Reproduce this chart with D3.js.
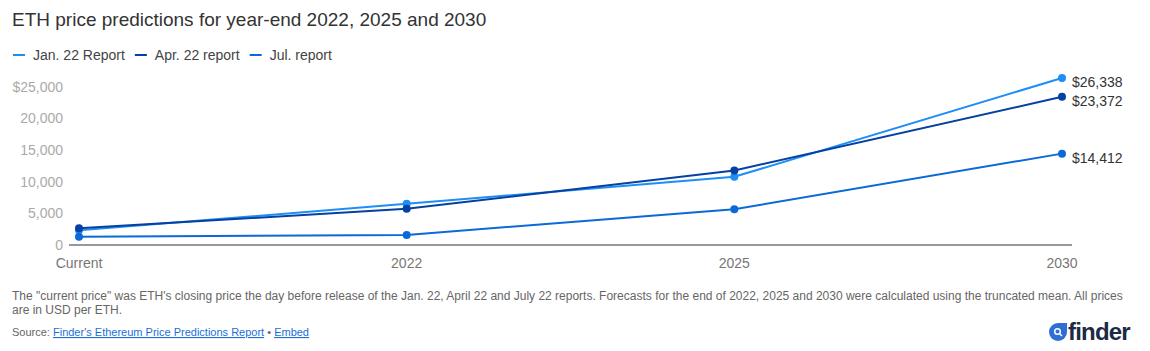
<!DOCTYPE html>
<html>
<head>
<meta charset="utf-8">
<script src="https://cdn.jsdelivr.net/npm/d3@7"></script>
<style>
  body { margin: 0; background: #fff; font-family: Arial, "Liberation Sans", sans-serif; }
</style>
</head>
<body>
<svg id="chart" width="1150" height="351"></svg>
<script>
// Chart data
const categories = ["Current", "2022", "2025", "2030"];
const seriesNames = ["Jan. 22 Report", "Apr. 22 report", "Jul. report"];
const janValues = [2330, 6490, 10760, 26338];
const aprValues = [2640, 5700, 11760, 23372];
const julValues = [1310, 1580, 5650, 14412];
const yTicks = [0, 5000, 10000, 15000, 20000, 25000];

const colors = ["#1e8ef7", "#0541a1", "#0a6ad8"];
const allSeries = [janValues, aprValues, julValues];

const plotLeft = 79, plotRight = 1062;   // first / last category position
const plotTop = 86.5, plotBottom = 245;

const svg = d3.select("#chart");

// Title
svg.append("text")
  .attr("x", 12).attr("y", 26)
  .attr("font-size", 19).attr("fill", "#333")
  .text("ETH price predictions for year-end 2022, 2025 and 2030");

// Legend
const legend = svg.append("g").attr("transform", "translate(13,55)");
let lx = 0;
seriesNames.forEach((name, i) => {
  legend.append("line")
    .attr("x1", lx).attr("x2", lx + 12)
    .attr("y1", 0).attr("y2", 0)
    .attr("stroke", colors[i]).attr("stroke-width", 2);
  const t = legend.append("text")
    .attr("x", lx + 20).attr("y", 5)
    .attr("font-size", 14).attr("fill", "#444")
    .text(name);
  lx += 20 + t.node().getComputedTextLength() + 10;
});

// Scales
const x = d3.scalePoint().domain(categories).range([plotLeft, plotRight]);
const y = d3.scaleLinear().domain([0, 25000]).range([plotBottom, plotTop]);

// Y axis labels
svg.append("g")
  .selectAll("text")
  .data(yTicks)
  .enter()
  .append("text")
  .attr("x", 63)
  .attr("y", (d) => y(d) + 5)
  .attr("text-anchor", "end")
  .attr("font-size", 14)
  .attr("fill", "#aaa")
  .text((d) => (d === 25000 ? "$" : "") + d3.format(",")(d));

// Baseline
svg.append("line")
  .attr("x1", 69).attr("x2", 1072)
  .attr("y1", y(0)).attr("y2", y(0))
  .attr("stroke", "#333").attr("stroke-width", 1);

// X axis labels
svg.append("g")
  .selectAll("text")
  .data(categories)
  .enter()
  .append("text")
  .attr("x", (d) => x(d))
  .attr("y", 268)
  .attr("text-anchor", "middle")
  .attr("font-size", 14)
  .attr("fill", "#777")
  .text((d) => d);

// Lines and points
const line = d3.line()
  .x((d, i) => x(categories[i]))
  .y((d) => y(d));

allSeries.forEach((values, s) => {
  svg.append("path")
    .datum(values)
    .attr("d", line)
    .attr("fill", "none")
    .attr("stroke", colors[s])
    .attr("stroke-width", 2);

  svg.selectAll(".pt-" + s)
    .data(values)
    .enter()
    .append("circle")
    .attr("class", "pt-" + s)
    .attr("cx", (d, i) => x(categories[i]))
    .attr("cy", (d) => y(d))
    .attr("r", 4)
    .attr("fill", colors[s]);

  // End label
  const last = values[values.length - 1];
  svg.append("text")
    .attr("x", x(categories[categories.length - 1]) + 10)
    .attr("y", y(last) + 9)
    .attr("font-size", 14)
    .attr("fill", "#333")
    .text("$" + d3.format(",")(last));
});

// Footnote
svg.append("text")
  .attr("x", 12).attr("y", 300)
  .attr("font-size", 12).attr("fill", "#666")
  .text("The \"current price\" was ETH's closing price the day before release of the Jan. 22, April 22 and July 22 reports. Forecasts for the end of 2022, 2025 and 2030 were calculated using the truncated mean. All prices");
svg.append("text")
  .attr("x", 12).attr("y", 314)
  .attr("font-size", 12).attr("fill", "#666")
  .text("are in USD per ETH.");

// Source line
const src = svg.append("text")
  .attr("x", 12).attr("y", 336)
  .attr("font-size", 11).attr("fill", "#666");
src.append("tspan").text("Source: ");
src.append("tspan").attr("fill", "#1a6fd6").attr("text-decoration", "underline")
  .text("Finder's Ethereum Price Predictions Report");
src.append("tspan").text(" \u2022 ");
src.append("tspan").attr("fill", "#1a6fd6").attr("text-decoration", "underline")
  .text("Embed");

// finder logo
const logo = svg.append("g").attr("transform", "translate(1049,321)");
logo.append("path")
  .attr("d", "M9,0 H18 V9 A9,9 0 1 1 9,0 Z")
  .attr("fill", "#2e6fd6")
  .attr("transform", "translate(0,2)");
logo.append("circle").attr("cx", 8.5).attr("cy", 10.5).attr("r", 2.8)
  .attr("fill", "none").attr("stroke", "#fff").attr("stroke-width", 1.5);
logo.append("line").attr("x1", 10.5).attr("y1", 12.5).attr("x2", 13).attr("y2", 15)
  .attr("stroke", "#fff").attr("stroke-width", 1.5);
logo.append("text")
  .attr("x", 19).attr("y", 19)
  .attr("font-size", 24).attr("font-weight", "bold")
  .attr("fill", "#1c2a44")
  .attr("letter-spacing", -0.8)
  .text("finder");
</script>
</body>
</html>
